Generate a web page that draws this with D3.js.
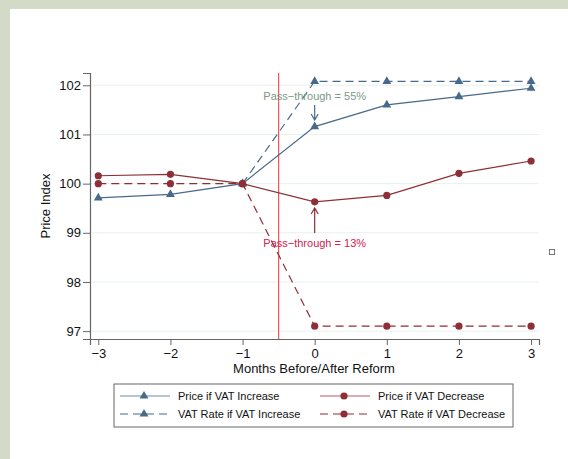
<!DOCTYPE html>
<html>
<head>
<meta charset="utf-8">
<script src="https://cdn.jsdelivr.net/npm/d3@7"></script>
<style>
  html, body { margin: 0; padding: 0; background: #d4dac8; }
  svg { display: block; font-family: "Liberation Sans", Arial, sans-serif; }
</style>
</head>
<body>
<div id="chart"></div>
<script>
// months relative to reform
const months = [-3, -2, -1, 0, 1, 2, 3];
const priceIncrease = [99.71, 99.78, 100, 101.16, 101.60, 101.77, 101.94];
const priceDecrease = [100.16, 100.19, 100, 99.63, 99.76, 100.21, 100.46];
const vatIncreaseMonths = [-1, 0, 1, 2, 3];
const vatIncrease = [100, 102.08, 102.08, 102.08, 102.08];
const vatDecrease = [100, 100, 100, 97.1, 97.1, 97.1, 97.1];
const yTicks = [97, 98, 99, 100, 101, 102];
const legendLabels = ["Price if VAT Increase", "Price if VAT Decrease",
  "VAT Rate if VAT Increase", "VAT Rate if VAT Decrease"];

const W = 568, H = 459;
const blue = "#47698a", red = "#8e2f37";

const svg = d3.select("#chart").append("svg")
  .attr("width", W).attr("height", H);

// white panel inside the frame
svg.append("rect").attr("x", 10).attr("y", 9)
  .attr("width", W - 10).attr("height", H - 9).attr("fill", "#fff");

const x = d3.scaleLinear().domain([-3.115, 3.11]).range([90, 539]);
const y = d3.scaleLinear().domain([96.84, 102.25]).range([339, 73]);

// gridlines
svg.append("g").selectAll("line").data(yTicks).join("line")
  .attr("x1", 90).attr("x2", 539)
  .attr("y1", d => y(d)).attr("y2", d => y(d))
  .attr("stroke", "#e8f0f0").attr("stroke-width", 1);

// axes
const yAxis = svg.append("g").attr("transform", "translate(90,0)")
  .call(d3.axisLeft(y).tickValues(yTicks).tickSize(7).tickPadding(2)
    .tickFormat(d3.format("d")));
const xAxis = svg.append("g").attr("transform", "translate(0,339)")
  .call(d3.axisBottom(x).tickValues(months).tickSize(6).tickPadding(4)
    .tickFormat(d => d < 0 ? "\u2212" + Math.abs(d) : d));
[yAxis, xAxis].forEach(a => {
  a.select(".domain").attr("stroke", "#666").attr("stroke-width", 1.2);
  a.selectAll(".tick line").attr("stroke", "#666");
  a.selectAll("text").attr("font-size", 13).attr("fill", "#111")
    .attr("font-family", "Liberation Sans, Arial, sans-serif");
});

// reform line
svg.append("line").attr("x1", x(-0.5)).attr("x2", x(-0.5))
  .attr("y1", 73).attr("y2", 339)
  .attr("stroke", "#f2555a").attr("stroke-width", 1.2);

const line = d3.line().x(d => x(d[0])).y(d => y(d[1]));
const tri = d3.symbol().type(d3.symbolTriangle).size(34);

function drawSeries(xs, ys, color, dashed, marker) {
  const pts = xs.map((m, i) => [m, ys[i]]);
  svg.append("path").datum(pts).attr("d", line)
    .attr("fill", "none").attr("stroke", color).attr("stroke-width", 1.2)
    .attr("stroke-dasharray", dashed ? "8,5" : null);
  const g = svg.append("g");
  if (marker === "tri") {
    g.selectAll("path").data(pts).join("path").attr("d", tri)
      .attr("transform", d => `translate(${x(d[0])},${y(d[1])})`)
      .attr("fill", color);
  } else {
    g.selectAll("circle").data(pts).join("circle")
      .attr("cx", d => x(d[0])).attr("cy", d => y(d[1])).attr("r", 3.6)
      .attr("fill", color);
  }
}

drawSeries(vatIncreaseMonths, vatIncrease, blue, true, "tri");
drawSeries(months, vatDecrease, red, true, "dot");
drawSeries(months, priceIncrease, blue, false, "tri");
drawSeries(months, priceDecrease, red, false, "dot");

// annotations
svg.append("text").attr("x", x(0)).attr("y", 99.5)
  .attr("text-anchor", "middle").attr("font-size", 11).attr("fill", "#7a9a88")
  .text("Pass\u2212through = 55%");
svg.append("text").attr("x", x(0)).attr("y", 246.5)
  .attr("text-anchor", "middle").attr("font-size", 11).attr("fill", "#d3204f")
  .text("Pass\u2212through = 13%");

function arrow(x0, y0, y1, color) {
  const dir = y1 > y0 ? -1 : 1;
  svg.append("path")
    .attr("d", `M${x0},${y0}L${x0},${y1}M${x0 - 3.5},${y1 + dir * 6}L${x0},${y1}L${x0 + 3.5},${y1 + dir * 6}`)
    .attr("fill", "none").attr("stroke", color).attr("stroke-width", 1.2);
}
arrow(x(0), 105, 120, blue);
arrow(x(0), 233, 208, red);

// axis titles
svg.append("text").attr("transform", "translate(50,206) rotate(-90)")
  .attr("text-anchor", "middle").attr("font-size", 13).attr("fill", "#111")
  .text("Price Index");
svg.append("text").attr("x", 314).attr("y", 373)
  .attr("text-anchor", "middle").attr("font-size", 13).attr("fill", "#111")
  .text("Months Before/After Reform");

// legend
const lg = svg.append("g");
lg.append("rect").attr("x", 114).attr("y", 384).attr("width", 399).attr("height", 43)
  .attr("fill", "#fff").attr("stroke", "#666").attr("stroke-width", 1);
const legendItems = [
  { label: legendLabels[0], color: blue, dashed: false, marker: "tri", lx: 120, ly: 396 },
  { label: legendLabels[1], color: red, dashed: false, marker: "dot", lx: 320, ly: 396 },
  { label: legendLabels[2], color: blue, dashed: true, marker: "tri", lx: 120, ly: 414 },
  { label: legendLabels[3], color: red, dashed: true, marker: "dot", lx: 320, ly: 414 }
];
legendItems.forEach(it => {
  lg.append("line").attr("x1", it.lx).attr("x2", it.lx + 50)
    .attr("y1", it.ly).attr("y2", it.ly)
    .attr("stroke", it.color).attr("stroke-width", 1.2)
    .attr("stroke-opacity", it.dashed ? 1 : 0.75)
    .attr("stroke-dasharray", it.dashed ? "8,5" : null);
  if (it.marker === "tri") {
    lg.append("path").attr("d", tri).attr("fill", it.color)
      .attr("transform", `translate(${it.lx + 24},${it.ly})`);
  } else {
    lg.append("circle").attr("cx", it.lx + 24).attr("cy", it.ly).attr("r", 3.6)
      .attr("fill", it.color);
  }
  lg.append("text").attr("x", it.lx + 58).attr("y", it.ly + 4)
    .attr("font-size", 11).attr("fill", "#111").text(it.label);
});

// small marker square at right
svg.append("rect").attr("x", 549.5).attr("y", 249.5).attr("width", 5).attr("height", 5)
  .attr("fill", "#fff").attr("stroke", "#777").attr("stroke-width", 1);
</script>
</body>
</html>
